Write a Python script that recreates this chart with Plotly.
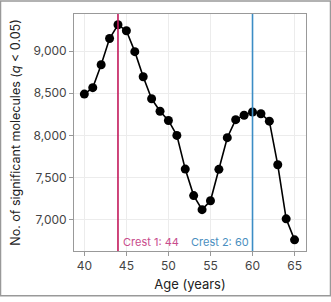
import plotly.graph_objects as go

ages = [40, 41, 42, 43, 44, 45, 46, 47, 48, 49, 50, 51, 52, 53, 54, 55, 56, 57, 58, 59, 60, 61, 62, 63, 64, 65]
counts = [8490, 8566, 8838, 9148, 9311, 9241, 8993, 8695, 8434, 8287, 8177, 8000, 7601, 7287, 7120, 7225,
          7598, 7973, 8187, 8239, 8277, 8257, 8169, 7652, 7011, 6762]
crests = [44, 60]
crest_labels = ["Crest 1: 44", "Crest 2: 60"]
crest_line_colors = ["#C2185B", "#3C8DC5"]
crest_text_colors = ["#C84C8C", "#4A8FC0"]
x_ticks = [40, 45, 50, 55, 60, 65]
y_ticks = [7000, 7500, 8000, 8500, 9000]

W, H = 331, 302
ml, mr, mt, mb = 74, 25, 14, 47
pw, ph = W - ml - mr, H - mt - mb

FONT = "Inter, Roboto, sans-serif"

fig = go.Figure()
fig.add_trace(go.Scatter(
    x=ages, y=counts, mode="lines+markers",
    line=dict(color="black", width=1.6),
    marker=dict(color="black", size=9),
    showlegend=False, hoverinfo="skip"))

shapes = []
annotations = []
for c, lab, lc, tc, side in zip(crests, crest_labels, crest_line_colors, crest_text_colors, ["left", "right"]):
    shapes.append(dict(type="line", xref="x", yref="paper", x0=c, x1=c, y0=0, y1=1,
                       line=dict(color=lc, width=1.6)))
    annotations.append(dict(x=c, y=0, xref="x", yref="paper", text=lab, showarrow=False,
                            xanchor=side, yanchor="bottom", xshift=3 if side == "left" else -2, yshift=0,
                            font=dict(family=FONT, size=11, color=tc)))

# outer frame
shapes.append(dict(type="rect", xref="paper", yref="paper",
                   x0=(0.5 - ml) / pw, x1=(W - 0.5 - ml) / pw,
                   y0=-(mb - 1.5) / ph,
                   y1=1 + (mt - 0.75) / ph,
                   line=dict(color="#999999", width=1.5), layer="below"))

fig.update_layout(
    width=W, height=H,
    margin=dict(l=ml, r=mr, t=mt, b=mb),
    paper_bgcolor="white", plot_bgcolor="white",
    font=dict(family=FONT, size=12, color="#333333"),
    shapes=shapes, annotations=annotations,
    xaxis=dict(range=[38.77, 66.36], tickvals=x_ticks, ticks="outside", ticklen=4, tickcolor="#999999",
               showline=True, mirror=True, linecolor="#999999", linewidth=1,
               showgrid=True, gridcolor="#ECECEC", gridwidth=1, zeroline=False,
               title=dict(text="Age (years)", font=dict(size=13, color="#222222"), standoff=7),
               tickfont=dict(size=12, color="#444444")),
    yaxis=dict(range=[6630, 9439], tickvals=y_ticks, tickformat=",d", ticks="outside", ticklen=4,
               tickcolor="#999999",
               showline=True, mirror=True, linecolor="#999999", linewidth=1,
               showgrid=True, gridcolor="#ECECEC", gridwidth=1, zeroline=False,
               title=dict(text="No. of significant molecules (<i>q</i> < 0.05)",
                          font=dict(size=12.5, color="#222222"), standoff=10),
               tickfont=dict(size=12, color="#444444")),
)

fig.write_html("out.html")
